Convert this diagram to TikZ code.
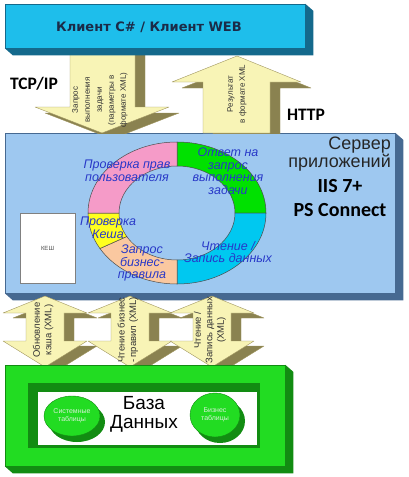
\documentclass[tikz,border=0pt]{standalone}
\usepackage{fontspec}
\setmainfont{Liberation Sans}
\newfontfamily\tahomafont{DejaVu Sans}
\newfontfamily\calibrifont{Carlito}
\usepackage{tikz}
\usetikzlibrary{shapes.geometric, shadows}

\definecolor{clientcyan}{RGB}{30,190,235}
\definecolor{clientside}{RGB}{20,105,140}
\definecolor{clientnavy}{RGB}{27,43,72}
\definecolor{serverblue}{RGB}{158,200,240}
\definecolor{serverside}{RGB}{70,105,145}
\definecolor{arrowyellow}{RGB}{248,244,182}
\definecolor{arrowolive}{RGB}{138,130,80}
\definecolor{arrowedge}{RGB}{160,150,95}
\definecolor{dbgreen}{RGB}{34,220,34}
\definecolor{dbdark}{RGB}{18,140,18}
\definecolor{disktext}{RGB}{215,240,215}
\definecolor{ringpink}{RGB}{245,155,200}
\definecolor{ringgreen}{RGB}{0,225,0}
\definecolor{ringcyan}{RGB}{0,200,240}
\definecolor{ringpeach}{RGB}{250,200,160}
\definecolor{ringyellow}{RGB}{255,255,30}
\definecolor{labelblue}{RGB}{40,56,200}

\newcommand\boxdepth[2]{%
  \fill[#2] (#1.north east) -- ++(8,7) -- ([shift={(8,7)}]#1.south east)
    -- ([shift={(8,7)}]#1.south west) -- (#1.south west) -- (#1.south east) -- cycle;}

\begin{document}
\begin{tikzpicture}[x=1pt,y=-1pt,inner sep=0pt,
    panel/.style={draw=#1, line width=0.5pt},
    arrowfront/.style={fill=arrowyellow, draw=arrowedge, line width=0.4pt, line join=round},
    arrowside/.style={fill=arrowolive, draw=arrowedge, line width=0.4pt, line join=round},
    arrowtext/.style={rotate=90, align=center, text=black!80, font=\fontsize{8}{12}\selectfont},
    ringlabel/.style={align=center, text=labelblue, font=\itshape\fontsize{12.5}{12.5}\selectfont},
    disk/.style={ellipse, fill=dbgreen, draw=dbdark, line width=0.4pt, align=center, text=disktext,
      font=\fontsize{7}{8}\selectfont, drop shadow={shadow xshift=5pt, shadow yshift=-6pt, fill=dbdark, opacity=1}}]
  \useasboundingbox (0,0) rectangle (408,477);

  \node[panel=serverside, fill=serverblue, minimum width=390pt, minimum height=160pt] (server) at (200,213) {};
  \boxdepth{server}{serverside}
  \node[draw=black!50, fill=white, minimum width=55pt, minimum height=70pt, font=\fontsize{6}{6}\selectfont, text=black!70] (cache) at (47.5,248) {КЕШ};

  \coordinate (ring) at (177,213);
  \foreach \a/\b/\c in {270/360/ringgreen, 0/90/ringcyan, 90/150/ringpeach, 150/180/ringyellow, 180/270/ringpink}
    \filldraw[fill=\c, draw=black!70, line width=0.5pt] ([shift={(\a:89 and 71)}]ring)
      arc[start angle=\a, end angle=\b, x radius=89, y radius=71]
      -- ([shift={(\b:58 and 47)}]ring)
      arc[start angle=\b, end angle=\a, x radius=58, y radius=47] -- cycle;

  \node[ringlabel] (perm) at (127,171) {Проверка прав\\пользователя};
  \node[ringlabel] (answer) at (228,171) {Ответ на\\запрос\\выполнения\\задачи};
  \node[ringlabel] (cachechk) at (108,228) {Проверка\\Кеша};
  \node[ringlabel] (rulesreq) at (142,263) {Запрос\\бизнес-\\правила};
  \node[ringlabel] (readwrite) at (228,252) {Чтение /\\Запись данных};

  \node[anchor=east, align=right, text=black!85, font=\fontsize{18}{18}\selectfont] (srvname) at (391,154) {Сервер\\приложений};
  \node[align=center, font=\calibrifont\bfseries\fontsize{20}{24}\selectfont] (srviis) at (340,198) {IIS 7+\\PS Connect};

  \foreach \cx/\nm/\txt in {45/updtxt/{Обновление\\кэша (XML)}, 130/rulestxt/{Чтение бизнес\\- правил (XML)}, 212/datatxt/{Чтение /\\Запись данных\\(XML)}} {
    \path[arrowside, shift={(10,5)}] (\cx,296) -- (\cx+42,313) -- (\cx+19,313) -- (\cx+19,341) -- (\cx+42,341)
      -- (\cx,367) -- (\cx-42,341) -- (\cx-19,341) -- (\cx-19,313) -- (\cx-42,313) -- cycle;
    \path[arrowfront] (\cx,296) -- (\cx+42,313) -- (\cx+19,313) -- (\cx+19,341) -- (\cx+42,341)
      -- (\cx,367) -- (\cx-42,341) -- (\cx-19,341) -- (\cx-19,313) -- (\cx-42,313) -- cycle;
    \node[arrowtext, font=\fontsize{9.5}{11.5}\selectfont] (\nm) at (\cx-2,330) {\txt};
  }

  \node[panel=dbdark, fill=dbgreen, minimum width=280pt, minimum height=101pt] (db) at (145,415.5) {};
  \boxdepth{db}{dbdark}
  \fill[dbdark] (28,383) rectangle (260,448);
  \fill[white] (38,392) rectangle (257,445);
  \node[align=center, font=\fontsize{19}{19}\selectfont] (dbname) at (144,414) {База\\Данных};
  \node[disk, minimum width=56pt, minimum height=40pt] (systab) at (72,416) {Системные\\таблицы};
  \node[disk, minimum width=50pt, minimum height=44pt] (bustab) at (215,415) {Бизнес\\таблицы};

  \begin{scope}
    \clip (0,0) rectangle (408,133);
    \path[arrowside, shift={(10,6)}] (70,48) -- (135,48) -- (135,107) -- (169,107) -- (102,133) -- (35,107) -- (70,107) -- cycle;
    \path[arrowside, shift={(10,6)}] (203,133) -- (203,82) -- (172,82) -- (237,56) -- (301,82) -- (270,82) -- (270,133) -- cycle;
  \end{scope}
  \path[arrowfront] (70,48) -- (135,48) -- (135,107) -- (169,107) -- (102,133) -- (35,107) -- (70,107) -- cycle;
  \path[arrowfront] (203,133) -- (203,82) -- (172,82) -- (237,56) -- (301,82) -- (270,82) -- (270,133) -- cycle;
  \node[arrowtext] (reqtxt) at (100,100) {Запрос\\выполнения\\задачи\\(параметры в\\формате XML)};
  \node[arrowtext] (restxt) at (237,94) {Результат\\в формате XML};

  \node[panel=clientside, fill=clientcyan, minimum width=300pt, minimum height=44pt] (client) at (155,26) {};
  \boxdepth{client}{clientside}
  \node[text=clientnavy, font=\tahomafont\bfseries\fontsize{13}{13}\selectfont] (clientname) at (149,27) {Клиент C\# / Клиент WEB};

  \node[font=\calibrifont\bfseries\fontsize{17.5}{17.5}\selectfont] (tcp) at (34,84) {TCP/IP};
  \node[font=\calibrifont\bfseries\fontsize{17.5}{17.5}\selectfont] (http) at (306,115) {HTTP};
\end{tikzpicture}
\end{document}
